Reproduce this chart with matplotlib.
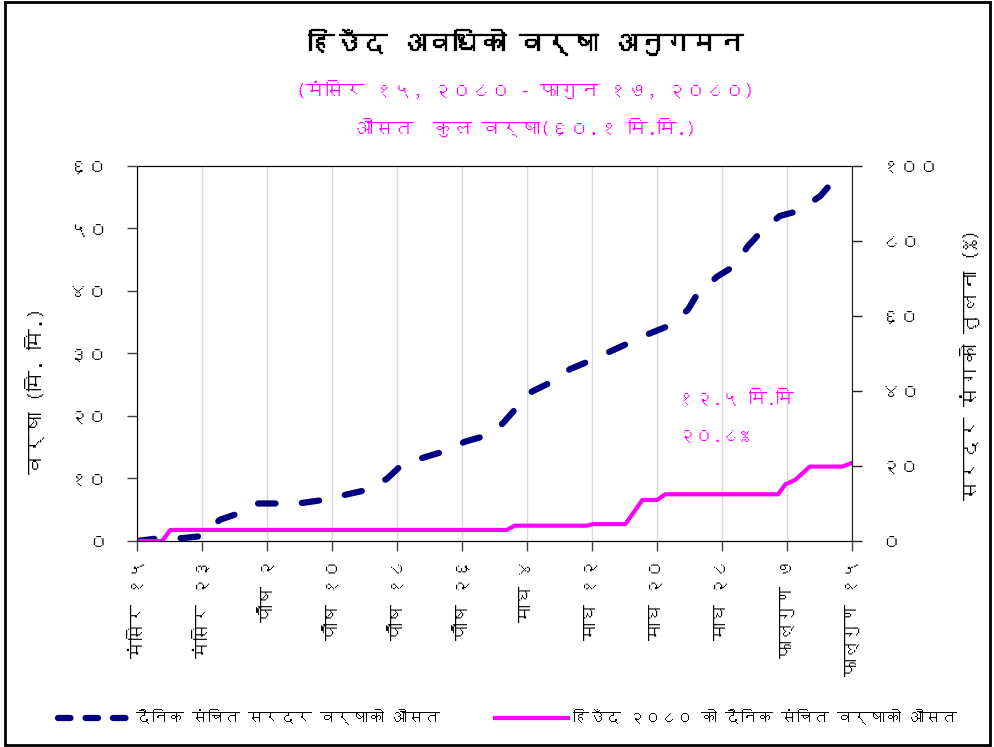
import matplotlib
matplotlib.use("Agg")
import matplotlib.pyplot as plt
import matplotlib.patheffects as pe
from matplotlib import font_manager
from matplotlib.ft2font import FT2Font
from matplotlib.lines import Line2D
from matplotlib.patches import Rectangle

# Data: day index from मंसिर १५ (0) to फाल्गुण १५ (88)
normal_days = [0, 2.8, 5.5, 8.1, 10.2, 12.7, 14.9, 17.8, 20.4, 23.1, 26.0, 28.4,
               30.8, 32.6, 35.4, 37.7, 40.4, 42.8, 45.0, 46.5, 48.6, 50.8, 53.3,
               55.5, 58.2, 60.4, 63.1, 65.4, 67.8, 69.0, 71.4, 73.4, 75.2, 76.9,
               79.1, 81.4, 84.1, 85.5, 86.0]
normal_rain = [0, 0.45, 0.45, 0.8, 3.4, 4.5, 6.0, 6.0, 6.1, 6.6, 7.5, 8.2,
               10.0, 12.2, 13.4, 14.3, 15.9, 16.8, 18.8, 21.0, 23.9, 25.3, 27.5,
               28.7, 30.3, 31.6, 33.2, 34.4, 37.0, 39.6, 42.3, 43.9, 47.2, 49.6,
               52.0, 52.8, 55.2, 57.3, 57.9]

winter_days = [0, 3.1, 4.1, 45.5, 46.5, 55.4, 56.1, 60.1, 62.2, 64.0, 65.0,
               78.9, 79.8, 81.0, 82.8, 86.8, 88.0]
winter_rain = [0, 0, 1.76, 1.76, 2.45, 2.45, 2.7, 2.7, 6.56, 6.56, 7.47,
               7.47, 9.07, 9.76, 11.9, 11.9, 12.5]

x_ticks = [0, 8, 16, 24, 32, 40, 48, 56, 64, 72, 80, 88]
x_labels = ["मंसिर १५", "मंसिर २३", "पौष २", "पौष १०", "पौष १८", "पौष २६",
            "माघ ४", "माघ १२", "माघ २०", "माघ २८", "फाल्गुण ७", "फाल्गुण १५"]
left_ticks = [0, 10, 20, 30, 40, 50, 60]
left_labels = ["०", "१०", "२०", "३०", "४०", "५०", "६०"]
right_ticks = [0, 20, 40, 60, 80, 100]
right_labels = ["०", "२०", "४०", "६०", "८०", "१००"]


def find_devanagari_font():
    for f in font_manager.fontManager.ttflist:
        try:
            if 0x0915 in FT2Font(f.fname).get_charmap():
                return f.name
        except Exception:
            pass
    return None


deva = find_devanagari_font()
families = ([deva] if deva else []) + ["DejaVu Sans"]
plt.rcParams["font.family"] = families

MAGENTA = "#ff00ff"
NAVY = "#000080"

fig = plt.figure(figsize=(9.95, 7.47), dpi=100)
ax = fig.add_axes([0.1377, 0.2758, 0.7186, 0.502])

ax.plot(normal_days, normal_rain, color=NAVY, lw=4.5, dashes=(2.8, 4.2),
        dash_capstyle="round", solid_capstyle="round", zorder=3)
ax.plot(winter_days, winter_rain, color=MAGENTA, lw=3, zorder=4)

ax.set_xlim(0, 88)
ax.set_ylim(0, 60)
ax.set_xticks(x_ticks)
ax.set_xticklabels(x_labels, rotation=90, fontsize=13)
ax.set_yticks(left_ticks)
ax.set_yticklabels(left_labels, fontsize=14)
ax.grid(axis="x", color="#d9d9d9", lw=1)
ax.tick_params(axis="both", direction="out", length=7, width=1, color="#404040")
ax.tick_params(axis="y", pad=14)
ax.tick_params(axis="x", pad=6)
for s in ax.spines.values():
    s.set_color("#404040")
ax.set_ylabel("वर्षा (मि. मि.)", fontsize=15)
ax.yaxis.set_label_coords(-0.128, 0.40)

ax2 = ax.twinx()
ax2.set_ylim(0, 100)
ax2.set_yticks(right_ticks)
ax2.set_yticklabels(right_labels, fontsize=14)
ax2.tick_params(axis="y", direction="out", length=7, width=1, color="#202020", pad=14)
ax2.spines["right"].set_color("#202020")
ax2.set_ylabel("सरदर संगको तुलना (%)", fontsize=15)
ax2.yaxis.set_label_coords(1.152, 0.47)

ax.text(66.5, 23.0, "१२.५ मि.मि", color=MAGENTA, fontsize=13, va="center")
ax.text(66.5, 16.6, "२०.८%", color=MAGENTA, fontsize=13, va="center")

fig.text(0.528, 0.944, "हिउँद अवधिको वर्षा अनुगमन", ha="center", va="center",
         fontsize=19, fontweight="bold",
         path_effects=[pe.withStroke(linewidth=0.9, foreground="black")])
fig.text(0.528, 0.880, "(मंसिर १५, २०८० - फागुन १७, २०८०)", ha="center",
         va="center", fontsize=14, color=MAGENTA)
fig.text(0.528, 0.829, "औसत  कुल वर्षा(६०.१ मि.मि.)", ha="center",
         va="center", fontsize=14, color=MAGENTA)

handles = [
    Line2D([], [], color=NAVY, lw=4.5, dashes=(2.0, 2.4), dash_capstyle="round"),
    Line2D([], [], color=MAGENTA, lw=3),
]
fig.legend(handles, ["दैनिक संचित सरदर वर्षाको औसत",
                     "हिउँद २०८० को दैनिक संचित वर्षाको औसत"],
           loc="center", bbox_to_anchor=(0.51, 0.04), ncol=2, frameon=False,
           fontsize=11.5, handlelength=4.6, columnspacing=3.4, handletextpad=0.3)

fig.patches.append(Rectangle((0.005, 0.003), 0.99, 0.994, transform=fig.transFigure,
                             fill=False, ec="black", lw=2))

fig.savefig("out.png", dpi=100)
